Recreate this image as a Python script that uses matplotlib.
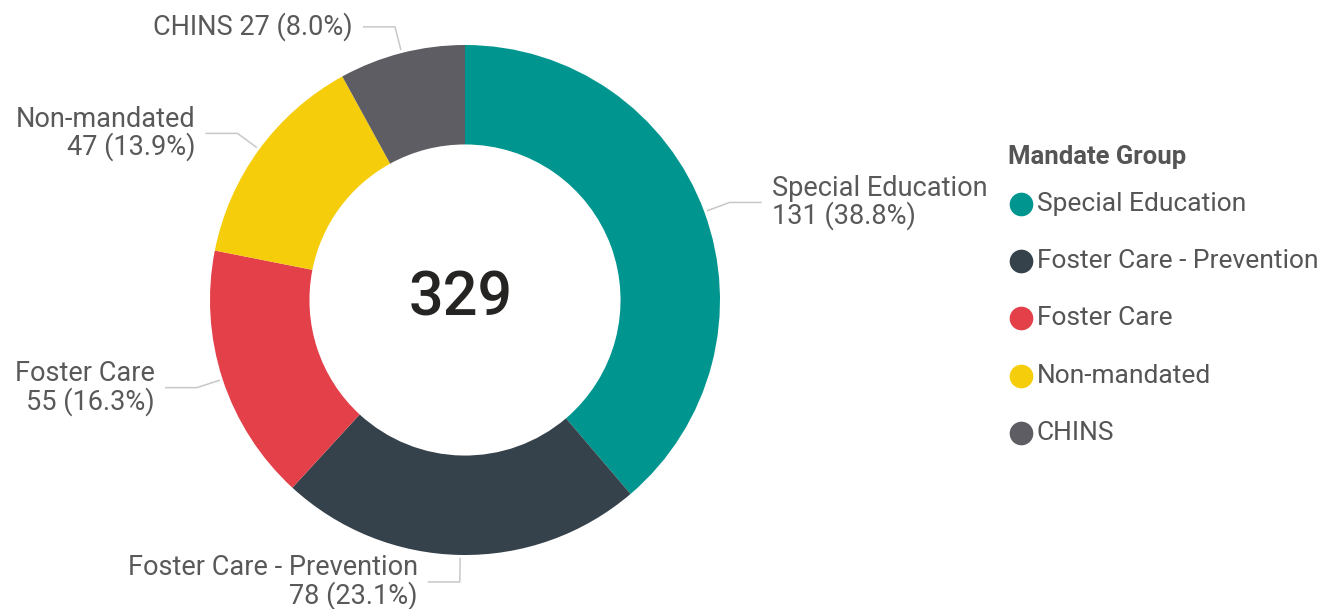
import numpy as np
import matplotlib
matplotlib.use("Agg")
import matplotlib.pyplot as plt

# Datos del gráfico
groups = ['Special Education', 'Foster Care - Prevention', 'Foster Care',
          'Non-mandated', 'CHINS']
counts = [131, 78, 55, 47, 27]
colors = ['#00968F', '#35424B', '#E4404A', '#F6CD0B', '#5E5D63']
one_line = [False, False, False, False, True]
center_value = 329
legend_title = 'Mandate Group'

FONT = ['Roboto', 'DejaVu Sans']
W, H = 1344, 609
cx, cy, R = 465, 300, 255

fig = plt.figure(figsize=(W / 100, H / 100), dpi=100)
ax = fig.add_axes([0, 0, 1, 1])

# Dona: eje y invertido -> counterclock=True se ve en sentido horario
ax.pie(counts, colors=colors, center=(cx, cy), radius=R, startangle=-90,
       counterclock=True, frame=True,
       wedgeprops=dict(width=R * 0.39, linewidth=0))
ax.set_xlim(0, W)
ax.set_ylim(H, 0)  # coordenadas en pixeles, y hacia abajo
ax.set_aspect('equal')
ax.axis('off')

ax.text(cx - 4, cy - 2, str(center_value), ha='center', va='center',
        fontsize=44, fontweight='medium', color='#252423', family=FONT)

# Etiquetas con líneas guía
total = sum(counts)
cum = np.cumsum([0] + counts)
for i, name in enumerate(groups):
    phi = np.deg2rad(360 * (cum[i] + counts[i] / 2) / total)
    s, c = np.sin(phi), -np.cos(phi)
    x0, y0 = cx + (R + 3) * s, cy + (R + 3) * c
    x1, y1 = cx + (R + 27) * s, cy + (R + 27) * c
    d = 1 if s > 0 else -1
    x2 = x1 + d * 32
    ax.plot([x0, x1, x2], [y0, y1, y1], color='#C8C8C8', lw=1.1,
            solid_capstyle='butt')
    pct = counts[i] / total * 100
    sep = ' ' if one_line[i] else '\n'
    label = f'{name}{sep}{counts[i]} ({pct:.1f}%)'
    ax.text(x2 + d * 10, y1, label, ha='left' if d > 0 else 'right',
            va='center', multialignment='left' if d > 0 else 'right',
            fontsize=19.5, color='#5A5959', family=FONT, linespacing=1.0)

# Leyenda
ax.text(1008, 157, legend_title, ha='left', va='center', fontsize=18.5,
        fontweight='bold', color='#555555', family=FONT)
for i, name in enumerate(groups):
    y = 204 + 57.2 * i
    ax.scatter([1021], [y], s=290, color=colors[i], linewidths=0)
    ax.text(1037, y, name, ha='left', va='center', fontsize=19,
            color='#555555', family=FONT)

fig.savefig('out.png', dpi=100)
